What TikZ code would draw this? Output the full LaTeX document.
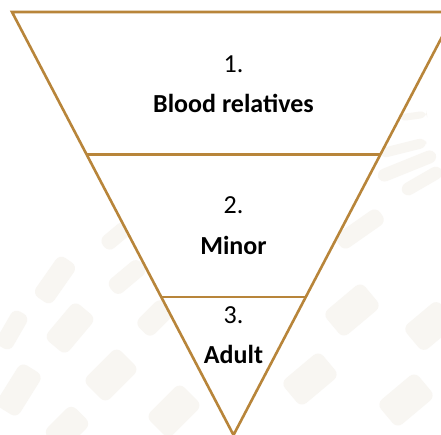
\documentclass[tikz,border=0pt]{standalone}
\usepackage{fontspec}
\setmainfont{Carlito}
\usetikzlibrary{calc}
\definecolor{funnelgold}{RGB}{184,133,58}
\definecolor{watermark}{RGB}{248,246,242}

\begin{document}
\begin{tikzpicture}[
  x=1pt,y=-1pt,
  edge/.style={draw=funnelgold, line width=2.6pt},
  num/.style={anchor=base, inner sep=0pt, font=\fontsize{26}{30}\selectfont},
  lbl/.style={anchor=base, inner sep=0pt, font=\bfseries\fontsize{26}{30}\selectfont},
  blob/.style={fill=watermark, rounded corners=7pt}
]
\useasboundingbox (0,0) rectangle (441,434);
\clip (0,0) rectangle (441,434);
\fill[white] (0,0) rectangle (441,434);
% faint watermark behind the funnel
\foreach \cx/\cy/\w/\h/\r in {116/236/32/16/40, 55/280/48/22/55, 127/277/40/18/40, 70/328/48/28/50,
  155/318/36/22/45, 111/375/48/32/45, 19/390/50/26/58, 174/411/48/32/45, 67/428/40/28/45, 12/330/40/18/60,
  413/116/28/7/8, 403/148/48/10/14, 407/166/62/13/22, 422/181/45/13/30, 360/229/52/18/35,
  352/310/50/32/40, 430/326/45/32/40, 310/379/50/32/40, 406/400/50/32/40}
  \fill[blob, rotate around={\r:(\cx,\cy)}] (\cx-\w/2,\cy-\h/2) rectangle (\cx+\w/2,\cy+\h/2);
% funnel
\coordinate (tl) at (12,12);
\coordinate (tr) at (455,12);
\coordinate (apex) at (233.5,435);
\coordinate (l1) at ($(tl)!0.337!(apex)$);
\coordinate (r1) at ($(tr)!0.337!(apex)$);
\coordinate (l2) at ($(tl)!0.674!(apex)$);
\coordinate (r2) at ($(tr)!0.674!(apex)$);
\fill[white] (tl) -- (tr) -- (apex) -- cycle;
\draw[edge] (tl) -- (tr) -- (apex) -- cycle;
\draw[edge] (l1) -- (r1);
\draw[edge] (l2) -- (r2);
% levels
\node[num] (n1) at (233.5,72) {1.};
\node[lbl] (t1) at (233.5,112) {Blood relatives};
\node[num] (n2) at (233.5,213) {2.};
\node[lbl] (t2) at (233.5,254) {Minor};
\node[num] (n3) at (233.5,323) {3.};
\node[lbl] (t3) at (233.5,363) {Adult};
\end{tikzpicture}
\end{document}
